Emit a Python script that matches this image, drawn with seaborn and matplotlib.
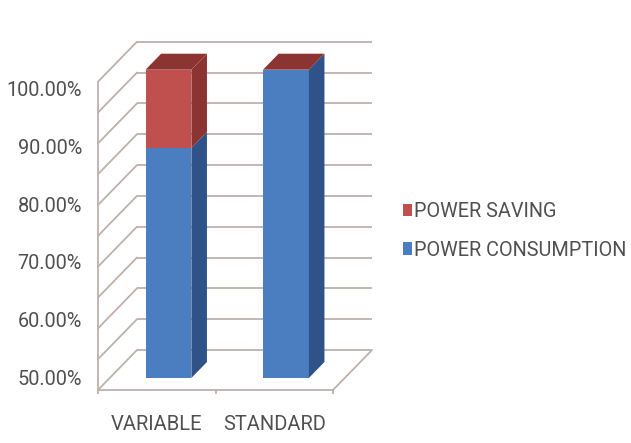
import matplotlib
matplotlib.use("Agg")
import matplotlib.pyplot as plt
import numpy as np
import pandas as pd
import seaborn as sns
from matplotlib.patches import Polygon, Patch

# ---------------- data ----------------
categories = ["VARIABLE", "STANDARD"]
power_consumption = [87.3, 100.0]
power_saving = [12.7, 0.0]
series_labels = ["POWER SAVING", "POWER CONSUMPTION"]
y_ticks = [50, 60, 70, 80, 90, 100]
y_tick_labels = ["50.00%", "60.00%", "70.00%", "80.00%", "90.00%", "100.00%"]

sns.set_theme(style="white")
plt.rcParams["font.family"] = ["Roboto", "DejaVu Sans"]

W, H, DPI = 631, 443, 100
fig = plt.figure(figsize=(W / DPI, H / DPI), dpi=DPI)
fig.patch.set_facecolor("white")

# front plane of the pseudo-3D box (pixels, image coordinates)
L, R, B, T = 98, 333, 390, 81.7
DEPTH_PX = (39, 40)          # full depth of the box in pixels (right, up)
BAR_FRONT, BAR_BACK = 0.3, 0.7
YMIN, YMAX = 50, 100
XMIN, XMAX = -0.5, 1.5

ax = fig.add_axes([L / W, 1 - B / H, (R - L) / W, (B - T) / H])
ax.patch.set_alpha(0)

RED, BLUE = "#c0504d", "#4b7ec0"
RED_D, BLUE_D = "#8c3431", "#2f5389"
GRID = "#bdb1ac"
TXT = "#505050"

df = pd.DataFrame({"category": categories,
                   "consumption": power_consumption,
                   "saving": power_saving})
df["total"] = df["consumption"] + df["saving"]

sns.barplot(data=df, x="category", y="total", color=RED, width=0.39,
            saturation=1, errorbar=None, linewidth=0, ax=ax, zorder=3)
sns.barplot(data=df, x="category", y="consumption", color=BLUE, width=0.39,
            saturation=1, errorbar=None, linewidth=0, ax=ax, zorder=3)
ax.set_xlim(XMIN, XMAX)
ax.set_ylim(YMIN, YMAX)

sx = (XMAX - XMIN) / (R - L)
sy = (YMAX - YMIN) / (B - T)


def depth(d):
    return d * DEPTH_PX[0] * sx, d * DEPTH_PX[1] * sy


fx, fy = depth(BAR_FRONT)
bx, by = depth(BAR_BACK)
wx, wy = depth(1.0)

# ---- back wall gridlines, left-wall diagonals, floor ----
for v in np.arange(YMIN, YMAX + 0.1, 5):
    ax.plot([XMIN + wx, XMAX + wx], [v + wy, v + wy], color=GRID, lw=1.3,
            clip_on=False, zorder=1, solid_capstyle="butt")
    ax.plot([XMIN, XMIN + wx], [v, v + wy], color=GRID, lw=1.3,
            clip_on=False, zorder=1)
ax.plot([XMAX, XMAX + wx], [YMIN, YMIN + wy], color=GRID, lw=1.3,
        clip_on=False, zorder=1)

# ---- shift bar fronts into depth, cut at axis minimum ----
for p in ax.patches:
    top = p.get_y() + p.get_height()
    p.set_y(YMIN + fy)
    p.set_height(top - YMIN)
    p.set_x(p.get_x() + fx)
    p.set_clip_on(False)

n = len(categories)
red_patches = ax.patches[:n]
for i in range(n):
    p = red_patches[i]
    xl = p.get_x() - fx
    xr = xl + p.get_width()
    cons = df["consumption"].iloc[i]
    tot = df["total"].iloc[i]
    for (y0, y1, c) in [(YMIN, cons, BLUE_D), (cons, tot, RED_D)]:
        side = Polygon([(xr + fx, y0 + fy), (xr + bx, y0 + by),
                        (xr + bx, y1 + by), (xr + fx, y1 + fy)],
                       closed=True, facecolor=c, edgecolor="none",
                       clip_on=False, zorder=3)
        ax.add_patch(side)
    topface = Polygon([(xl + fx, tot + fy), (xr + fx, tot + fy),
                       (xr + bx, tot + by), (xl + bx, tot + by)],
                      closed=True, facecolor=RED_D, edgecolor="none",
                      clip_on=False, zorder=3)
    ax.add_patch(topface)

# ---- axes styling ----
for s in ["top", "right"]:
    ax.spines[s].set_visible(False)
for s in ["left", "bottom"]:
    ax.spines[s].set_color(GRID)
    ax.spines[s].set_linewidth(1.3)
ax.set_yticks([])
ax.set_xlabel("")
ax.set_ylabel("")
ax.set_xticks(range(n), categories)
ax.set_xticks([XMIN + k for k in range(n + 1)], minor=True)
ax.tick_params(axis="x", which="major", length=0, pad=18, labelsize=14.5,
               labelcolor=TXT)
ax.tick_params(axis="x", which="minor", length=3, width=1.3, color=GRID,
               direction="out", bottom=True)

# y labels (Excel places them slightly inside the front edge range)
LT, LB = 88.3, 377.7
axl = fig.add_axes([L / W, 1 - LB / H, 0.001, (LB - LT) / H])
axl.set_ylim(YMIN, YMAX)
axl.set_yticks(y_ticks, y_tick_labels)
axl.set_xticks([])
axl.tick_params(axis="y", length=0, pad=11.5, labelsize=14.3, labelcolor=TXT,
                left=False)
for s in axl.spines.values():
    s.set_visible(False)
axl.patch.set_alpha(0)

# legend
handles = [Patch(facecolor=RED, edgecolor="none"),
           Patch(facecolor=BLUE, edgecolor="none")]
fig.legend(handles, series_labels, loc="upper left",
           bbox_to_anchor=(403 / W, 1 - 202 / H), frameon=False,
           fontsize=14.3, labelcolor=TXT, handlelength=0.45,
           handleheight=0.62, handletextpad=0.08, labelspacing=1.0,
           borderpad=0, borderaxespad=0)

fig.savefig("out.png", dpi=DPI, facecolor="white")
